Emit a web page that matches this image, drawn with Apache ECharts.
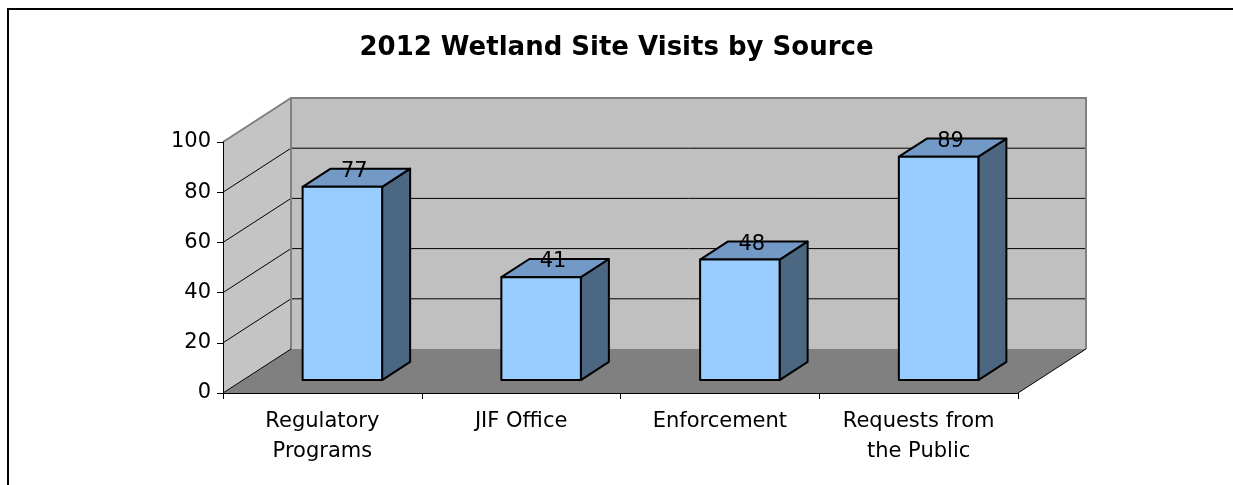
<!DOCTYPE html>
<html>
<head>
<meta charset="utf-8">
<script src="https://cdn.jsdelivr.net/npm/echarts@6/dist/echarts.min.js"></script>
<style>
html,body{margin:0;padding:0;background:#fff;}
#chart{width:1233px;height:485px;}
</style>
</head>
<body>
<div id="chart"></div>
<script>
const chartTitle = '2012 Wetland Site Visits by Source';
const categories = ['Regulatory\nPrograms', 'JIF Office', 'Enforcement', 'Requests from\nthe Public'];
const visits = [77, 41, 48, 89];
const yTicks = [0, 20, 40, 60, 80, 100];

const FONT = '"DejaVu Sans", "Liberation Sans", Arial, sans-serif';
const DX = 68, DY = -44;          // full depth offset of the 3D box
const F1 = 0.294, F2 = 0.706;     // bar front/back depth fractions

const chart = echarts.init(document.getElementById('chart'));

function wallsRender(params, api) {
  const cs = params.coordSys;
  const x0 = cs.x, x1 = cs.x + cs.width;
  const yb = api.coord([0, yTicks[0]])[1];
  const yt = api.coord([0, yTicks[yTicks.length - 1]])[1];
  const children = [];
  children.push({type: 'polygon', shape: {points: [[x0, yb], [x1, yb], [x1 + DX, yb + DY], [x0 + DX, yb + DY]]},
    style: {fill: '#808080', stroke: null}});
  children.push({type: 'polygon', shape: {points: [[x0, yb], [x0, yt], [x0 + DX, yt + DY], [x0 + DX, yb + DY]]},
    style: {fill: '#C4C4C4', stroke: null}});
  children.push({type: 'polygon', shape: {points: [[x0 + DX, yt + DY], [x1 + DX, yt + DY], [x1 + DX, yb + DY], [x0 + DX, yb + DY]]},
    style: {fill: '#C0C0C0', stroke: null}});
  yTicks.forEach(function (t) {
    if (t === yTicks[0] || t === yTicks[yTicks.length - 1]) return;
    const y = api.coord([0, t])[1];
    children.push({type: 'line', shape: {x1: x0, y1: y, x2: x0 + DX, y2: y + DY}, style: {stroke: '#000', lineWidth: 1}});
    children.push({type: 'line', shape: {x1: x0 + DX, y1: y + DY, x2: x1 + DX, y2: y + DY}, style: {stroke: '#000', lineWidth: 1}});
  });
  children.push({type: 'polyline', shape: {points: [[x0, yt], [x0 + DX, yt + DY], [x1 + DX, yt + DY], [x1 + DX, yb + DY]]},
    style: {stroke: '#808080', lineWidth: 2, fill: null}});
  children.push({type: 'line', shape: {x1: x0 + DX, y1: yt + DY, x2: x0 + DX, y2: yb + DY}, style: {stroke: '#808080', lineWidth: 2}});
  children.push({type: 'line', shape: {x1: x1, y1: yb, x2: x1 + DX, y2: yb + DY}, style: {stroke: '#000', lineWidth: 1}});
  children.push({type: 'line', shape: {x1: x0, y1: yb, x2: x0 + DX, y2: yb + DY}, style: {stroke: '#000', lineWidth: 1}});
  return {type: 'group', children: children};
}

function barRender(params, api) {
  const i = api.value(0), v = api.value(1);
  const top = api.coord([i, v]);
  const base = api.coord([i, 0]);
  const w = api.size([1, 0])[0] * 0.4;
  const fx = DX * F1, fy = DY * F1, bx = DX * F2, by = DY * F2;
  const l = top[0] - w / 2 + fx, r = top[0] + w / 2 + fx;
  const yT = top[1] + fy, yB = base[1] + fy;
  const ddx = bx - fx, ddy = by - fy;
  const edge = {stroke: '#000', lineWidth: 2, lineJoin: 'round'};
  return {type: 'group', children: [
    {type: 'polygon', shape: {points: [[r, yB], [r, yT], [r + ddx, yT + ddy], [r + ddx, yB + ddy]]},
      style: Object.assign({fill: '#4C6781'}, edge)},
    {type: 'polygon', shape: {points: [[l, yT], [r, yT], [r + ddx, yT + ddy], [l + ddx, yT + ddy]]},
      style: Object.assign({fill: '#7399C6'}, edge)},
    {type: 'rect', shape: {x: l, y: yT, width: w, height: yB - yT},
      style: Object.assign({fill: '#99CCFF'}, edge)},
    {type: 'text', z2: 10, style: {text: String(v), x: top[0] + fx + 12, y: yT + ddy + 3,
      align: 'center', verticalAlign: 'middle', font: '21px ' + FONT, fill: '#000'}}
  ]};
}

chart.setOption({
  animation: false,
  backgroundColor: '#fff',
  title: {
    text: chartTitle, left: 'center', top: 35, padding: [0, 0, 0, 13],
    textStyle: {fontFamily: FONT, fontSize: 26, fontWeight: 'bold', color: '#000'}
  },
  graphic: [{type: 'rect', shape: {x: 8, y: 9, width: 1240, height: 500},
    style: {fill: null, stroke: '#000', lineWidth: 2}, z: 100, silent: true}],
  grid: {left: 223, right: 215, top: 142, bottom: 92, containLabel: false},
  xAxis: {
    type: 'category', data: categories,
    axisLine: {show: true, lineStyle: {color: '#000', width: 1}},
    axisTick: {show: true, length: 6, lineStyle: {color: '#000'}},
    axisLabel: {fontFamily: FONT, fontSize: 21, color: '#000', lineHeight: 30, margin: 14, interval: 0},
    splitLine: {show: false}
  },
  yAxis: {
    type: 'value', min: 0, max: 100, interval: 20,
    axisLine: {show: true, lineStyle: {color: '#000', width: 1}},
    axisTick: {show: true, length: 6, lineStyle: {color: '#000'}},
    axisLabel: {fontFamily: FONT, fontSize: 21, color: '#000', margin: 12},
    splitLine: {show: false}
  },
  series: [
    {type: 'custom', name: 'walls', z: -1, silent: true, data: [[0, 0]], renderItem: wallsRender, clip: false},
    {type: 'custom', name: 'Visits', z: 3, data: visits.map(function (v, i) { return [i, v]; }), renderItem: barRender, clip: false}
  ]
});
</script>
</body>
</html>
